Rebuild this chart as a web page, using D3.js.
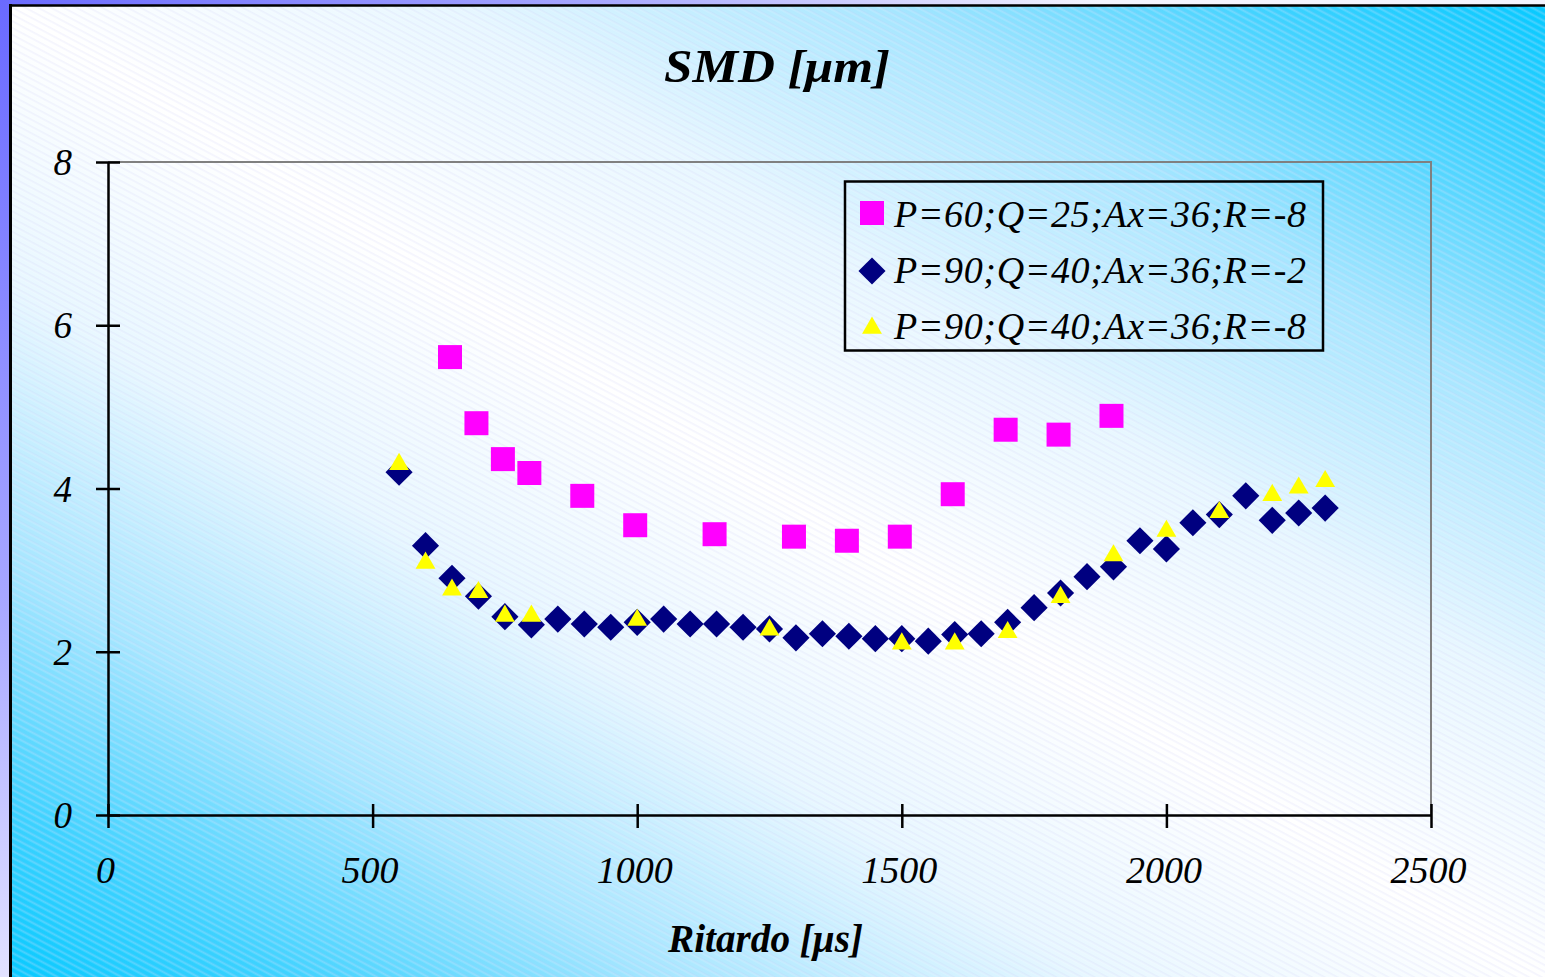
<!DOCTYPE html>
<html><head><meta charset="utf-8">
<script src="https://cdn.jsdelivr.net/npm/d3@7"></script>
<style>html,body{margin:0;padding:0;overflow:hidden;background:#fff}</style>
</head><body>
<script>
// ---- data ----
const xTicks = [0, 500, 1000, 1500, 2000, 2500];
const yTicks = [0, 2, 4, 6, 8];
const seriesNames = ["P=60;Q=25;Ax=36;R=-8", "P=90;Q=40;Ax=36;R=-2", "P=90;Q=40;Ax=36;R=-8"];
const s1x = [650, 700, 750, 800, 900, 1000, 1150, 1300, 1400, 1500, 1600, 1700, 1800, 1900];
const s1y = [5.61, 4.80, 4.36, 4.19, 3.91, 3.55, 3.44, 3.41, 3.36, 3.41, 3.93, 4.72, 4.66, 4.89];
const s2x = [550, 600, 650, 700, 750, 800, 850, 900, 950, 1000, 1050, 1100, 1150, 1200, 1250, 1300, 1350, 1400,
             1450, 1500, 1550, 1600, 1650, 1700, 1750, 1800, 1850, 1900, 1950, 2000, 2050, 2100, 2150, 2200, 2250, 2300];
const s2y = [4.20, 3.30, 2.90, 2.68, 2.43, 2.33, 2.40, 2.34, 2.30, 2.36, 2.40, 2.34, 2.34, 2.30, 2.28, 2.17, 2.22, 2.19,
             2.16, 2.16, 2.13, 2.21, 2.22, 2.36, 2.54, 2.72, 2.92, 3.04, 3.36, 3.26, 3.58, 3.68, 3.91, 3.61, 3.70, 3.76];
const s3x = [550, 600, 650, 700, 750, 800, 1000, 1250, 1500, 1600, 1700, 1800, 1900, 2000, 2100, 2200, 2250, 2300];
const s3y = [4.31, 3.10, 2.77, 2.74, 2.45, 2.45, 2.40, 2.28, 2.11, 2.11, 2.25, 2.68, 3.19, 3.49, 3.72, 3.93, 4.02, 4.10];
const titleText = "SMD [μm]";
const xLabelText = "Ritardo [μs]";

// ---- layout ----
const W = 1545, H = 977;
const svg = d3.select("body").append("svg").attr("width", W).attr("height", H);
const defs = svg.append("defs");

const outerG = defs.append("radialGradient").attr("id", "outer")
  .attr("gradientUnits", "userSpaceOnUse").attr("cx", 0).attr("cy", 0).attr("r", 1100);
outerG.append("stop").attr("offset", 0).attr("stop-color", "#6a6aff");
outerG.append("stop").attr("offset", 0.55).attr("stop-color", "#a8a8ff");
outerG.append("stop").attr("offset", 1).attr("stop-color", "#f4f4ff");

const bg = defs.append("linearGradient").attr("id", "bg")
  .attr("x1", 0).attr("y1", 1).attr("x2", 1).attr("y2", 0);
[[0, "#00c8ff"], [0.1, "#3ed2ff"], [0.22, "#a6e6ff"], [0.36, "#e8f7ff"], [0.5, "#ffffff"],
 [0.64, "#e8f7ff"], [0.78, "#a6e6ff"], [0.9, "#3ed2ff"], [1, "#00c8ff"]].forEach(s =>
  bg.append("stop").attr("offset", s[0]).attr("stop-color", s[1]));

const pat = defs.append("pattern").attr("id", "hatch").attr("patternUnits", "userSpaceOnUse")
  .attr("width", 6).attr("height", 6).attr("patternTransform", "rotate(28)");
pat.append("line").attr("x1", 0).attr("y1", 1).attr("x2", 6).attr("y2", 1)
  .attr("stroke", "#c8c8f4").attr("stroke-opacity", 0.35).attr("stroke-width", 1);
pat.append("line").attr("x1", 0).attr("y1", 2).attr("x2", 6).attr("y2", 2)
  .attr("stroke", "#ffffff").attr("stroke-opacity", 0.25).attr("stroke-width", 1);

svg.append("rect").attr("width", W).attr("height", H).attr("fill", "url(#outer)");
svg.append("rect").attr("x", 10.5).attr("y", 5.5).attr("width", W + 20).attr("height", H + 20)
  .attr("fill", "url(#bg)");
svg.append("rect").attr("x", 10.5).attr("y", 5.5).attr("width", W + 20).attr("height", H + 20)
  .attr("fill", "url(#hatch)");
svg.append("line").attr("x1", 10.5).attr("x2", 10.5).attr("y1", 4).attr("y2", H).attr("stroke", "#000").attr("stroke-width", 3);
svg.append("line").attr("x1", 9).attr("x2", W).attr("y1", 5.5).attr("y2", 5.5).attr("stroke", "#000").attr("stroke-width", 2.5);

const L = 108, R = 1431, T = 162, B = 815;
const x = d3.scaleLinear().domain([0, 2500]).range([L, R]);
const y = d3.scaleLinear().domain([0, 8]).range([B, T]);

// plot border (grey top & right)
svg.append("path").attr("d", `M${L},${T}H${R}V${B}`).attr("fill", "none")
  .attr("stroke", "#808080").attr("stroke-width", 2);

const font = "'Liberation Serif','Times New Roman',serif";

// axes
const gx = svg.append("g").attr("transform", `translate(0,${B})`)
  .call(d3.axisBottom(x).tickValues(xTicks).tickFormat(d3.format("d")).tickSizeOuter(0).tickPadding(0));
gx.select(".domain").attr("stroke", "#000").attr("stroke-width", 2.5);
gx.selectAll(".tick line").attr("y1", -11).attr("y2", 13).attr("stroke", "#000").attr("stroke-width", 2.5);
gx.selectAll(".tick text").attr("y", 68).attr("dy", 0).attr("dx", -3).attr("fill", "#000")
  .style("font-family", font).style("font-style", "italic").style("font-size", "38px");

const gy = svg.append("g").attr("transform", `translate(${L},0)`)
  .call(d3.axisLeft(y).tickValues(yTicks).tickFormat(d3.format("d")).tickSizeOuter(0).tickPadding(0));
gy.select(".domain").attr("stroke", "#000").attr("stroke-width", 2.5);
gy.selectAll(".tick line").attr("x1", -12).attr("x2", 12).attr("stroke", "#000").attr("stroke-width", 2.5);
gy.selectAll(".tick text").attr("x", -36).attr("dy", "0.34em").attr("fill", "#000")
  .style("font-family", font).style("font-style", "italic").style("font-size", "37px");

// markers
const sq = d3.symbol().type(d3.symbolSquare).size(24 * 24);
const dia = d3.symbol().type(d3.symbolDiamond2).size(470);
const tri = d3.symbol().type(d3.symbolTriangle).size(170);

function pts(xs, ys) { return xs.map((v, i) => ({ x: v, y: ys[i] })); }

svg.append("g").selectAll("path").data(pts(s1x, s1y)).join("path")
  .attr("d", sq).attr("transform", d => `translate(${x(d.x) - 2},${y(d.y)})`)
  .attr("fill", "#ff00ff");
svg.append("g").selectAll("path").data(pts(s2x, s2y)).join("path")
  .attr("d", dia).attr("transform", d => `translate(${x(d.x)},${y(d.y)})`)
  .attr("fill", "#000080");
svg.append("g").selectAll("path").data(pts(s3x, s3y)).join("path")
  .attr("d", tri).attr("transform", d => `translate(${x(d.x)},${y(d.y) + 1})`)
  .attr("fill", "#ffff00");

// legend
const lg = svg.append("g");
lg.append("rect").attr("x", 845).attr("y", 181.5).attr("width", 478).attr("height", 169)
  .attr("fill", "none").attr("stroke", "#000").attr("stroke-width", 2.5);
const legSyms = [sq, dia, tri];
const legCols = ["#ff00ff", "#000080", "#ffff00"];
const legY = [213, 271, 327];
seriesNames.forEach((name, i) => {
  lg.append("path").attr("d", legSyms[i]).attr("transform", `translate(872,${legY[i] + (i === 2 ? 1 : 0)})`)
    .attr("fill", legCols[i]);
  lg.append("text").attr("x", 894).attr("y", [227, 283, 339][i]).text(name)
    .attr("textLength", 412).attr("lengthAdjust", "spacing")
    .style("font-family", font).style("font-style", "italic").style("font-size", "38px").attr("fill", "#000");
});

// titles
svg.append("text").attr("x", 664).attr("y", 82).text(titleText)
  .attr("textLength", 226).attr("lengthAdjust", "spacingAndGlyphs")
  .style("font-family", font).style("font-style", "italic").style("font-weight", "bold").style("font-size", "47px");
svg.append("text").attr("x", 668).attr("y", 952).text(xLabelText)
  .attr("textLength", 195).attr("lengthAdjust", "spacingAndGlyphs")
  .style("font-family", font).style("font-style", "italic").style("font-weight", "bold").style("font-size", "40px");
</script>
</body></html>
